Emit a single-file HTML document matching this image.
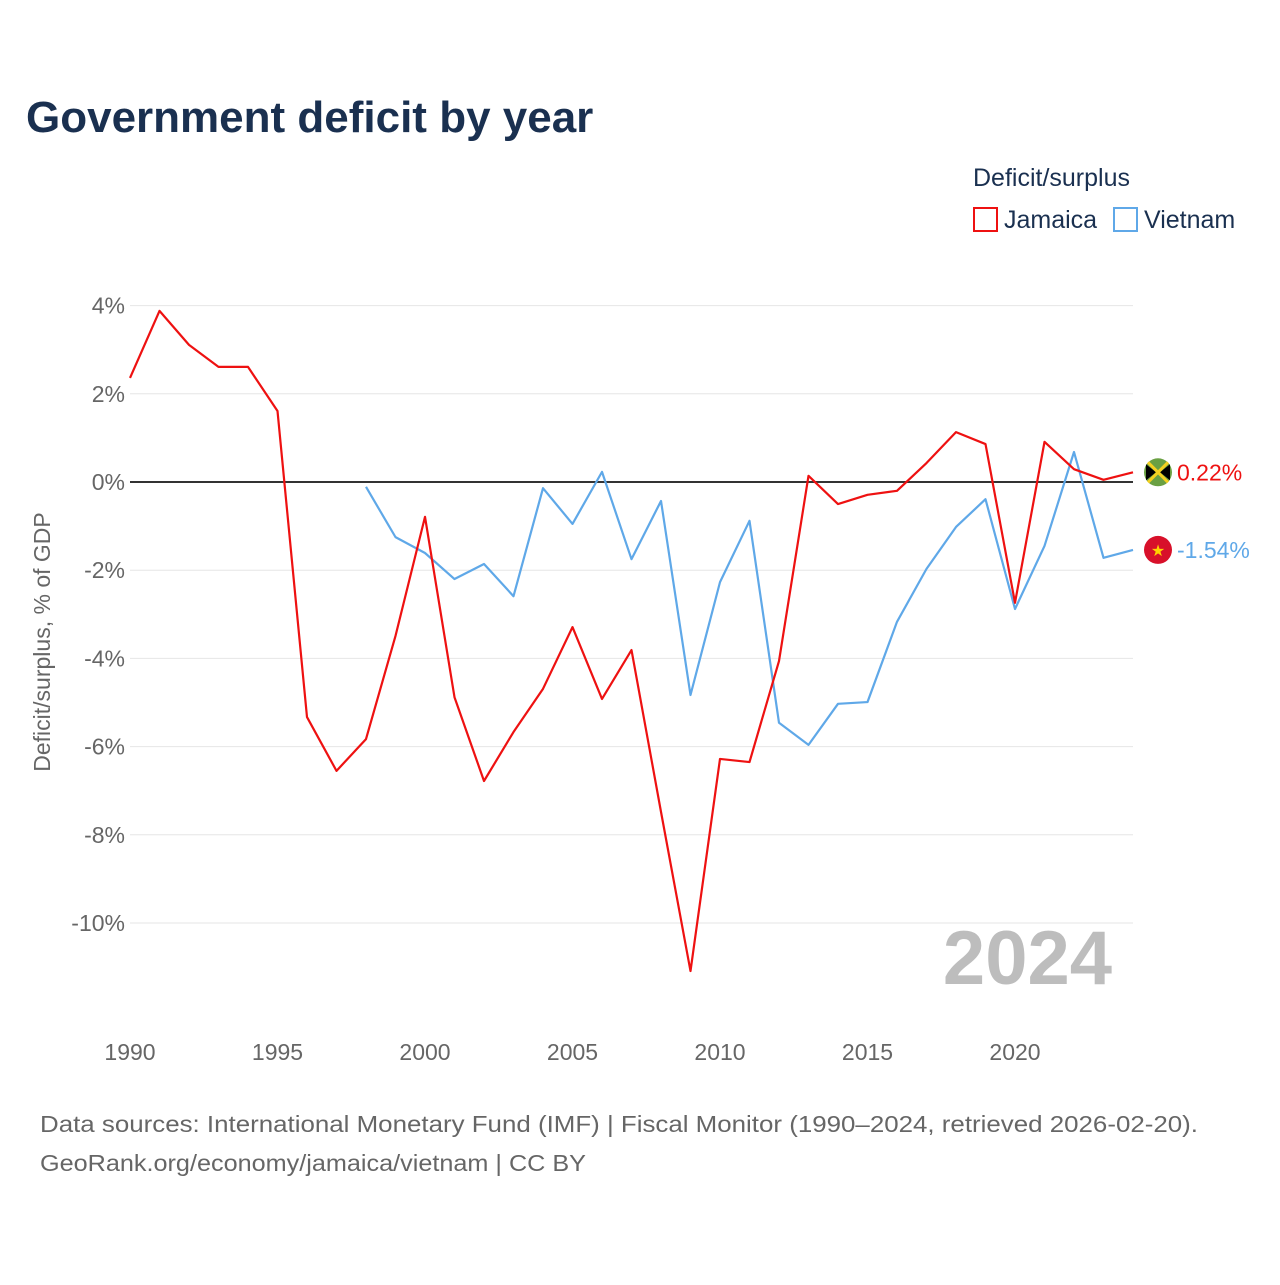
<!DOCTYPE html>
<html><head><meta charset="utf-8"><style>
body{margin:0;background:#fff;font-family:"Liberation Sans",sans-serif}
</style></head><body>
<svg width="1280" height="1280" xmlns="http://www.w3.org/2000/svg" font-family="Liberation Sans, sans-serif">
<text x="26" y="132" font-size="44" font-weight="bold" fill="#1a3050">Government deficit by year</text>
<text x="973" y="186" font-size="25" fill="#1a3050">Deficit/surplus</text>
<g><rect x="974" y="208" width="23" height="23" fill="none" stroke="#ee1111" stroke-width="2"/><text x="1004" y="228" font-size="25" fill="#1a3050">Jamaica</text></g>
<g><rect x="1114" y="208" width="23" height="23" fill="none" stroke="#5fa8e8" stroke-width="2"/><text x="1144" y="228" font-size="25" fill="#1a3050">Vietnam</text></g>
<text transform="translate(50,642) rotate(-90)" text-anchor="middle" font-size="23" fill="#666">Deficit/surplus, % of GDP</text>
<g id="grid"></g><g id="lines"></g>
<text x="1112" y="984" text-anchor="end" font-size="76" font-weight="bold" fill="#bdbdbd">2024</text>
<text x="40" y="1132" font-size="23" fill="#666" textLength="1158" lengthAdjust="spacingAndGlyphs">Data sources: International Monetary Fund (IMF) | Fiscal Monitor (1990–2024, retrieved 2026-02-20).</text>
<text x="40" y="1171" font-size="23" fill="#666" textLength="546" lengthAdjust="spacingAndGlyphs">GeoRank.org/economy/jamaica/vietnam | CC BY</text>
</svg>
<script>
const yTicks=[4,2,0,-2,-4,-6,-8,-10];
const xTicks=[1990,1995,2000,2005,2010,2015,2020];
const jamYears=[];for(let y=1990;y<=2024;y++)jamYears.push(y);
const jamaica=[2.36,3.88,3.11,2.61,2.61,1.61,-5.33,-6.55,-5.83,-3.49,-0.79,-4.88,-6.78,-5.67,-4.69,-3.29,-4.92,-3.81,-7.48,-11.09,-6.28,-6.35,-4.06,0.14,-0.5,-0.29,-0.2,0.43,1.13,0.86,-2.74,0.91,0.29,0.05,0.22];
const vietYears=[];for(let y=1998;y<=2024;y++)vietYears.push(y);
const vietnam=[-0.11,-1.25,-1.61,-2.2,-1.86,-2.59,-0.14,-0.95,0.23,-1.75,-0.43,-4.83,-2.27,-0.88,-5.46,-5.96,-5.03,-4.99,-3.17,-1.97,-1.02,-0.39,-2.88,-1.45,0.68,-1.72,-1.54];
const NS='http://www.w3.org/2000/svg';
const X=y=>130+(y-1990)*29.5, Y=v=>482-v*44.1;
const grid=document.getElementById('grid'), lines=document.getElementById('lines');
function mk(t,a,p){const e=document.createElementNS(NS,t);for(const k in a)e.setAttribute(k,a[k]);p.appendChild(e);return e;}
yTicks.forEach(v=>{
 const l=mk('line',{x1:130,x2:1133,y1:Y(v),y2:Y(v),stroke:v===0?'#333':'#e6e6e6','stroke-width':v===0?2:1},grid);
 
 
 const t=mk('text',{x:125,y:Y(v)+8,'text-anchor':'end','font-size':23,fill:'#666'},grid);t.textContent=v+'%';
 
 
});
xTicks.forEach(v=>{
 const t=mk('text',{x:X(v),y:1060,'text-anchor':'middle','font-size':23,fill:'#666'},grid);t.textContent=v;
 
 
});
function series(years,vals,col,name,label,flag){
 const p=mk('polyline',{points:years.map((y,i)=>X(y)+','+Y(vals[i])).join(' '),fill:'none',stroke:col,'stroke-width':2.2,'stroke-linejoin':'round'},lines);
 
 
 const ly=Y(vals[vals.length-1]);
 const g=mk('g',{},lines);
 
 
 if(flag==='jm'){
  mk('circle',{cx:1158,cy:ly,r:14,fill:'#6aa043'},g);
  mk('path',{d:`M1146 ${ly-8}L1156 ${ly}L1146 ${ly+8}Z M1170 ${ly-8}L1160 ${ly}L1170 ${ly+8}Z`,fill:'#000'},g);
  mk('path',{d:`M1148 ${ly-10}L1168 ${ly+10}M1168 ${ly-10}L1148 ${ly+10}`,stroke:'#f5d020','stroke-width':3},g);
 }else{
  mk('circle',{cx:1158,cy:ly,r:14,fill:'#d8102a'},g);
  const t=mk('text',{x:1158,y:ly+6,'text-anchor':'middle','font-size':16,fill:'#ffd100'},g);t.textContent='★';
 }
 const t=mk('text',{x:1177,y:ly+8,'font-size':23,fill:col},lines);t.textContent=label;
 
 
}
series(vietYears,vietnam,'#5fa8e8','vietnam',vietnam[vietnam.length-1].toFixed(2)+'%','vn');
series(jamYears,jamaica,'#ee1111','jamaica',jamaica[jamaica.length-1].toFixed(2)+'%','jm');
</script>
</body></html>
